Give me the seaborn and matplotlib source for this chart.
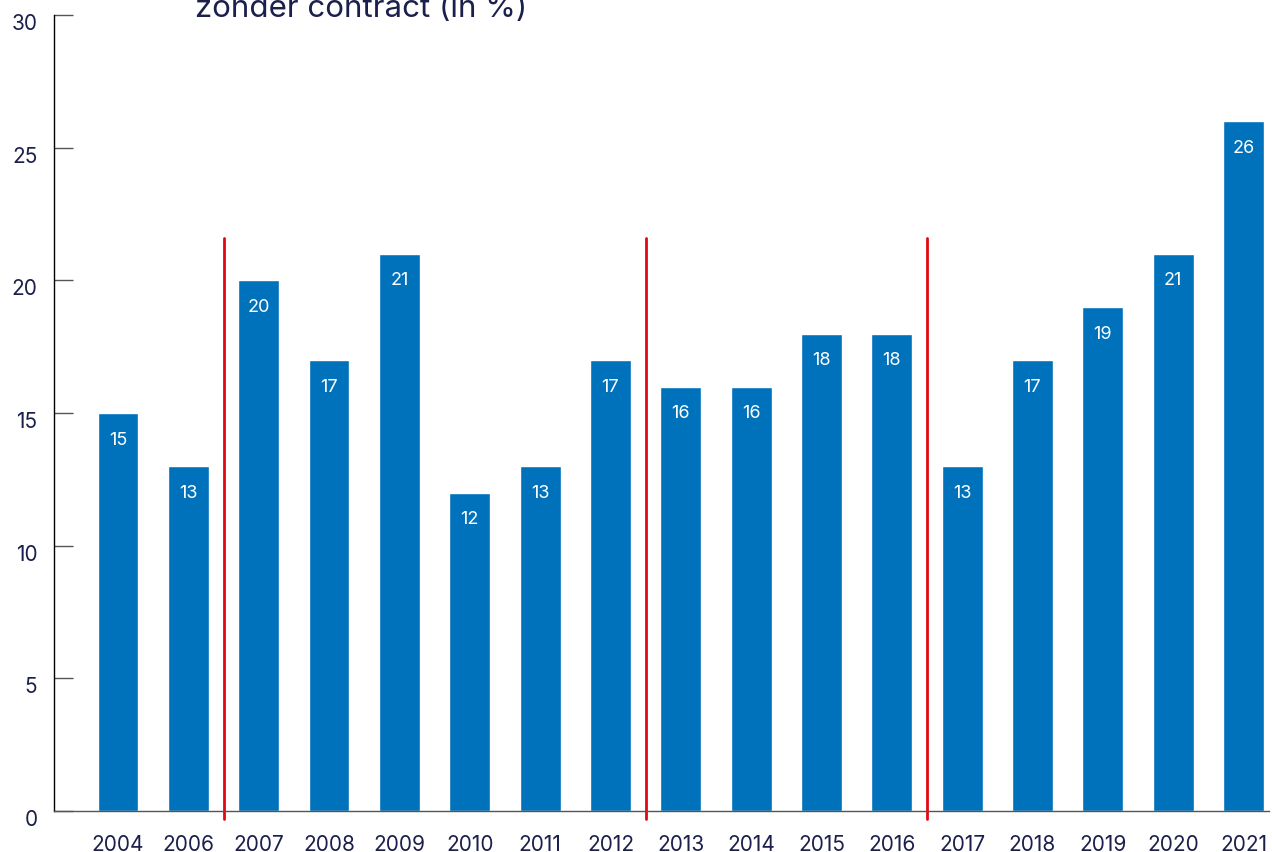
import matplotlib
matplotlib.use("Agg")
import matplotlib.pyplot as plt
import matplotlib.transforms as mtransforms
import seaborn as sns
import pandas as pd

years = ["2004", "2006", "2007", "2008", "2009", "2010", "2011", "2012", "2013",
         "2014", "2015", "2016", "2017", "2018", "2019", "2020", "2021"]
values = [15, 13, 20, 17, 21, 12, 13, 17, 16, 16, 18, 18, 13, 17, 19, 21, 26]
breaks_after = ["2006", "2012", "2016"]
title_text = "zonder contract (in %)"

navy = "#1b1f4b"
blue = "#0072bc"

sns.set_theme(style="white")
plt.rcParams["font.family"] = ["Inter", "DejaVu Sans"]

df = pd.DataFrame({"year": years, "value": values})

fig = plt.figure(figsize=(12.72, 8.53), dpi=100)
ax = fig.add_axes([0.0425, 0.048, 0.955, 0.933])
sns.barplot(data=df, x="year", y="value", color=blue, saturation=1,
            width=0.58, ax=ax)

# value labels inside the bars
for i, v in enumerate(values):
    ax.annotate(str(v), (i, v), xytext=(0, -26), textcoords="offset pixels",
                ha="center", va="center", color="white", fontsize=13)

# red separators between survey periods
for y in breaks_after:
    pos = years.index(y) + 0.5
    ax.plot([pos, pos], [-0.3, 21.6], color="#e30613", lw=2, clip_on=False)

ax.set_xlim(-0.91, 16.36)
ax.set_ylim(0, 30)
ax.set_yticks([0, 5, 10, 15, 20, 25, 30])
ax.set_xlabel("")
ax.set_ylabel("")

for s in ["top", "right"]:
    ax.spines[s].set_visible(False)
ax.spines["left"].set_color("black")
ax.spines["left"].set_linewidth(1)
ax.spines["bottom"].set_color("#555555")
ax.spines["bottom"].set_linewidth(1)

ax.tick_params(axis="y", direction="in", length=14, width=1, color="#555555",
               pad=12, labelsize=15, labelcolor=navy, left=True)
ax.tick_params(axis="x", length=0, pad=16.5, labelsize=15, labelcolor=navy)

shift = mtransforms.ScaledTranslation(0, -6 / 100, fig.dpi_scale_trans)
for lab in ax.get_yticklabels():
    lab.set_transform(lab.get_transform() + shift)

# title sits partly above the figure edge, as in the source
fig.text(195 / 1272, 1 - 17 / 853, title_text, ha="left", va="baseline",
         fontsize=22.5, color=navy)

fig.savefig("out.png", dpi=100)
